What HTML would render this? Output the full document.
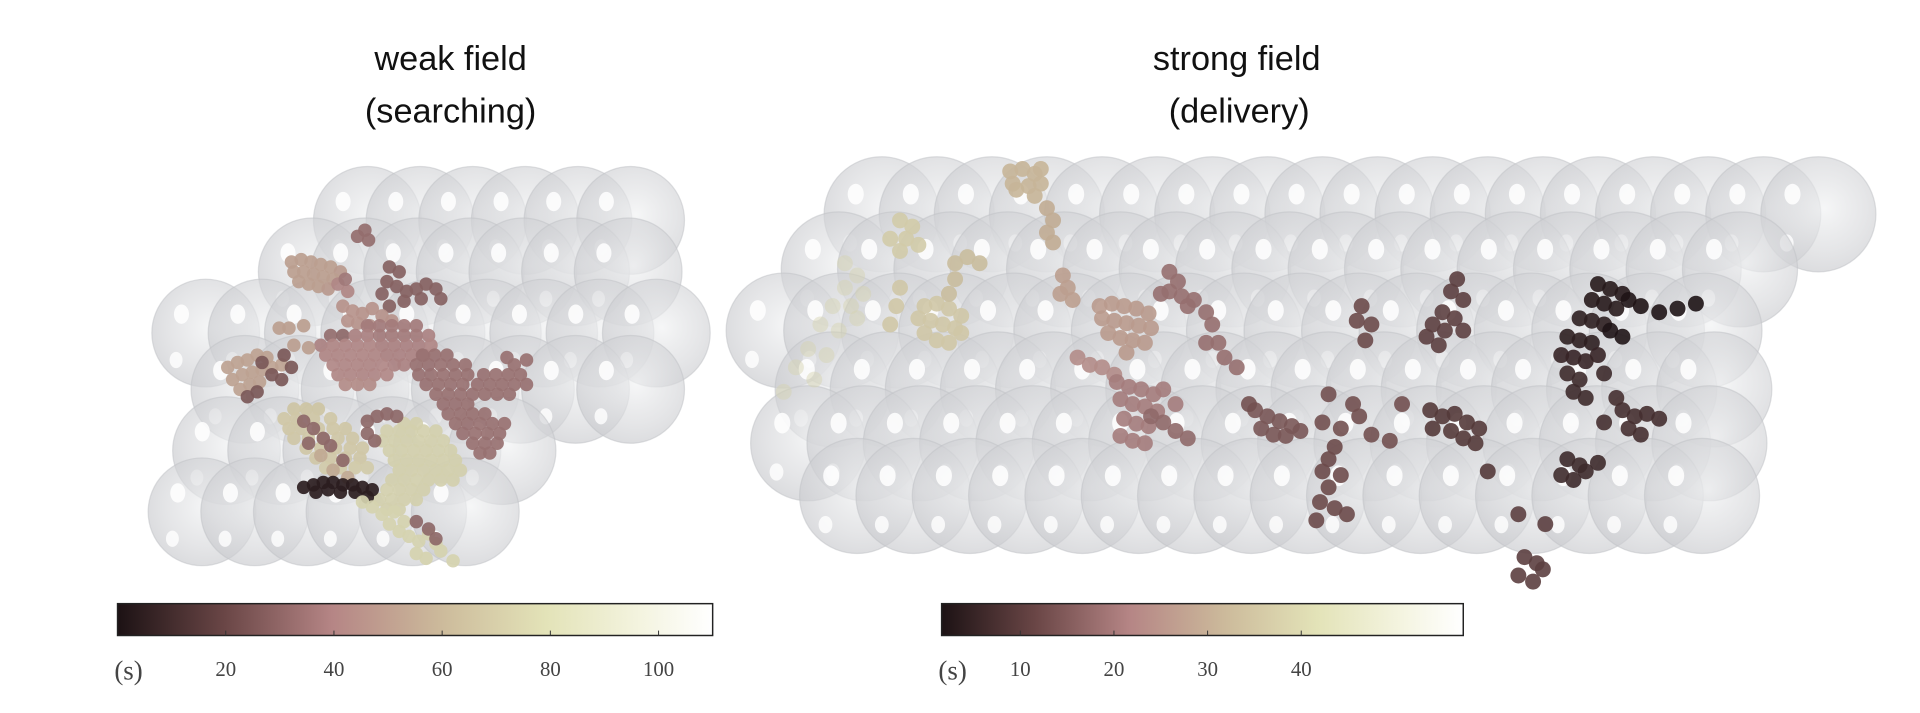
<!DOCTYPE html>
<html><head><meta charset="utf-8">
<style>
html,body{margin:0;padding:0;background:#fff;}
svg{display:block;}
.title{font-family:"Liberation Sans",sans-serif;font-size:28px;fill:#111;}
.tick{font-family:"Liberation Serif",serif;font-size:17px;fill:#444;}
.unit{font-family:"Liberation Serif",serif;font-size:22px;fill:#444;}
</style></head>
<body>
<svg id="fig" width="1920" height="713" viewBox="0 0 1568 582.3" preserveAspectRatio="none" xmlns="http://www.w3.org/2000/svg">
<defs>
<radialGradient id="sph" cx="0.55" cy="0.45" r="0.6">
<stop offset="0" stop-color="#f2f3f4" stop-opacity="0.7"/>
<stop offset="0.6" stop-color="#d6d7da" stop-opacity="0.62"/>
<stop offset="1" stop-color="#c8c9cd" stop-opacity="0.68"/>
</radialGradient>
<linearGradient id="cmap" x1="0" x2="1" y1="0" y2="0">
<stop offset="0" stop-color="#1c1214"/>
<stop offset="0.18" stop-color="#6a4646"/>
<stop offset="0.36" stop-color="#b58585"/>
<stop offset="0.55" stop-color="#cdbc9c"/>
<stop offset="0.72" stop-color="#e3e3b8"/>
<stop offset="0.88" stop-color="#f4f4e0"/>
<stop offset="1" stop-color="#ffffff"/>
</linearGradient>
</defs>
<g id="layer-spheres"></g>
<g id="layer-points"></g>
<text class="title" x="368" y="57" text-anchor="middle">weak field</text>
<text class="title" x="368" y="100" text-anchor="middle">(searching)</text>
<text class="title" x="1010" y="57" text-anchor="middle">strong field</text>
<text class="title" x="1012" y="100" text-anchor="middle">(delivery)</text>
<g id="layer-cbar"></g>
</svg>
<script>
// ---- Data ----
const leftTicks = [20, 40, 60, 80, 100];
const rightTicks = [10, 20, 30, 40];
const leftRange = [0, 110];
const rightRange = [1.6, 57.3];
// left panel points [x, y, time(s)]
const leftPoints = [
[292,193,32],[298,188,32],[301,196,32],
[238,214,50],[246,212,50],[254,214,50],[262,216,50],[270,218,50],[278,222,48],[240,222,50],[248,222,50],[256,224,50],[264,226,50],[272,228,50],[244,230,50],[252,232,50],[260,234,50],[268,236,48],[276,232,40],[284,238,40],[282,228,35],
[318,218,28],[326,222,28],[316,230,28],[324,234,28],[332,238,28],[340,236,28],[348,232,28],[356,236,28],[360,244,28],[344,244,28],[330,246,28],[318,250,28],[312,240,28],
[280,250,45],[288,254,45],[296,256,45],[304,252,45],[312,258,45],[320,262,45],[292,264,45],[302,266,45],[284,262,45],
[300,266,36],[310,266,36],[320,266,36],[330,266,36],[340,266,36],
[270,274,32],[280,274,30],[290,274,38],[300,274,38],[310,274,36],[320,274,36],[330,274,36],[340,274,36],[350,274,38],
[262,282,38],[272,282,40],[282,282,40],[292,282,40],[302,282,40],[312,282,38],[322,282,38],[332,282,38],[342,282,38],[352,282,40],
[266,290,40],[276,290,40],[286,290,40],[296,290,40],[306,290,40],[316,290,38],[326,290,38],[336,290,38],[346,290,38],
[272,298,40],[282,298,40],[292,298,40],[302,298,40],[312,298,40],[322,298,38],[330,298,38],
[276,306,40],[286,306,40],[296,306,40],[306,306,40],[316,306,40],
[282,314,42],[292,314,42],[302,314,42],
[186,300,52],[194,296,52],[202,294,52],[210,290,52],[218,292,52],[190,310,52],[198,306,52],[206,304,52],[214,302,52],[222,300,52],[230,298,52],[196,318,52],[204,314,52],[212,312,52],
[214,296,25],[222,306,25],[230,310,25],[238,300,25],[210,320,25],[202,324,25],[232,290,25],
[228,268,50],[236,268,50],[248,266,50],[240,282,50],[252,284,50],
[345,290,33],[355,290,33],[365,290,33],
[340,298,33],[350,298,33],[360,298,33],[370,298,33],[380,298,33],[414,292,33],[420,298,33],[430,294,33],
[342,306,33],[352,306,33],[362,306,33],[372,306,33],[382,306,33],[395,306,33],[405,306,33],[415,306,33],[425,306,33],
[348,314,33],[358,314,33],[368,314,33],[378,314,33],[390,314,33],[400,314,33],[410,314,33],[420,314,33],[430,314,33],
[356,322,33],[366,322,33],[376,322,33],[386,322,33],[396,322,33],[406,322,33],[416,322,33],
[362,330,33],[372,330,33],[382,330,33],
[366,338,33],[376,338,33],[386,338,33],[396,338,33],
[372,346,33],[382,346,33],[392,346,33],[402,346,33],[412,346,33],
[378,354,33],[388,354,33],[398,354,33],[408,354,33],
[386,362,33],[396,362,33],[406,362,33],[392,370,33],[400,370,33],
[240,334,68],[250,334,68],[260,334,68],
[232,342,70],[242,342,70],[256,342,70],[270,342,70],
[236,350,70],[246,350,70],[260,350,70],[272,350,70],[282,350,70],
[240,358,70],[252,358,70],[264,358,70],[276,358,70],[288,358,70],
[250,366,70],[262,366,70],[274,366,70],[286,366,70],[296,366,70],
[258,374,70],[270,374,70],[282,374,70],[294,374,70],
[266,382,72],[278,382,72],[290,382,72],[300,382,72],
[248,344,30],[256,350,30],[264,358,30],[270,364,30],[252,362,30],[280,376,30],
[262,372,55],[272,384,55],[284,390,55],
[330,346,74],[340,346,74],
[316,352,74],[326,352,74],[336,352,74],[346,352,74],[356,352,74],
[312,360,74],[322,360,74],[332,360,74],[342,360,74],[352,360,74],[362,360,74],
[318,368,74],[328,368,74],[338,368,74],[348,368,74],[358,368,74],[368,368,74],
[322,376,74],[332,376,74],[342,376,74],[352,376,74],[362,376,74],[372,376,74],
[326,384,74],[336,384,74],[346,384,74],[356,384,74],[366,384,74],[376,384,74],
[320,392,74],[330,392,74],[340,392,74],[350,392,74],[360,392,74],[370,392,74],
[316,400,74],[326,400,74],[336,400,74],[346,400,74],
[310,408,74],[320,408,74],[330,408,74],[340,408,74],
[316,416,74],[326,416,74],
[300,344,30],[308,340,30],[316,338,30],[324,340,30],[300,354,30],[306,360,30],
[248,398,4],[256,396,4],[264,394,4],[272,394,4],[280,396,4],[288,396,4],[296,398,4],[304,400,4],[258,402,4],[268,400,4],[278,402,4],[290,402,4],[300,406,4],
[296,410,76],[304,414,76],[312,420,76],[318,428,76],[326,434,76],[334,438,76],[342,442,76],[350,436,76],[356,444,76],[330,426,76],[322,418,76],[340,452,76],[348,456,76],[360,450,76],[370,458,76],
[350,432,30],[356,440,30],[340,426,30]
];
// right panel points [x, y, time(s)]
const rightPoints = [
[640,320,40],[650,300,40],[660,285,40],[670,265,40],[680,250,40],[690,235,40],[700,225,40],[690,215,40],[705,240,40],[700,260,40],[685,270,40],[675,290,40],[665,310,40],[695,250,40],
[735,180,38],[745,185,38],[740,195,38],[750,200,38],[735,205,38],[727,195,38],
[755,250,37],[765,248,37],[775,252,37],[785,258,37],[750,260,37],[760,262,37],[770,265,37],[780,268,37],[755,272,37],[765,278,37],[775,280,37],[785,272,37],
[735,235,37],[732,250,37],[727,265,37],
[825,140,32],[835,138,32],[845,142,32],[850,150,32],[840,152,32],[830,155,32],[845,160,32],[850,138,32],[827,150,32],
[855,170,30],[860,180,30],[855,190,30],[860,198,30],
[780,215,34],[790,210,34],[800,215,34],[780,228,34],[775,240,34],
[868,225,27],[872,235,27],[876,245,27],[866,240,27],
[898,250,26],[908,248,26],[918,250,26],[928,252,26],[938,256,26],[900,260,26],[910,262,26],[920,264,26],[930,266,26],[940,268,26],[905,272,26],[915,276,26],[925,278,26],[935,280,26],[920,288,26],
[955,222,18],[962,230,18],[955,238,18],[965,242,18],[975,245,18],[985,255,18],[990,265,18],[995,280,18],[1000,292,18],[1010,300,18],[985,280,18],[970,250,18],[948,240,18],
[880,292,23],[890,298,23],[900,300,23],[910,306,23],
[912,312,20],[922,316,20],[932,318,20],[942,322,20],[915,326,20],[925,330,20],[935,332,20],[945,336,20],[918,342,20],[928,346,20],[938,348,20],[915,356,20],[925,360,20],[935,362,20],[950,318,20],[960,330,20],
[940,340,17],[950,345,17],[960,352,17],[970,358,17],
[1025,335,14],[1035,340,14],[1045,344,14],[1055,348,14],[1030,350,14],[1040,355,14],[1050,356,14],[1062,352,14],
[1020,330,13],[1085,322,13],[1080,345,13],[1095,350,13],[1110,340,13],[1120,355,13],[1105,330,13],[1145,330,13],[1135,360,13],
[1090,365,12],[1085,375,12],[1080,385,12],[1095,388,12],[1085,398,12],[1078,410,12],[1090,415,12],[1100,420,12],[1075,425,12],
[1112,250,12],[1108,262,12],[1120,265,12],[1115,278,12],
[1190,228,10],[1185,238,10],[1195,245,10],[1178,255,10],[1188,260,10],[1170,265,10],[1180,270,10],[1165,275,10],[1175,282,10],[1195,270,10],
[1168,335,9],[1178,340,9],[1188,338,9],[1198,345,9],[1208,350,9],[1185,352,9],[1195,358,9],[1205,362,9],[1170,350,9],[1215,385,9],
[1305,232,3],[1315,236,3],[1325,240,3],[1300,245,3],[1310,248,3],[1320,252,3],[1290,260,4],[1300,262,4],[1310,265,4],[1280,275,4],[1290,278,4],[1300,280,4],[1275,290,5],[1285,292,5],[1295,295,5],[1305,290,5],[1280,305,6],[1290,310,6],[1285,320,6],[1295,325,6],[1310,305,6],[1330,245,2],[1340,250,2],[1355,255,1.8],[1370,252,1.7],[1385,248,1.7],[1315,270,2],[1325,275,2],
[1325,335,7],[1335,340,7],[1345,338,7],[1355,342,7],[1330,350,7],[1340,355,7],[1320,325,7],[1310,345,7],
[1280,375,6],[1290,380,6],[1275,388,6],[1285,392,6],[1295,385,6],[1305,378,6],
[1240,420,10],[1262,428,10],[1245,455,10],[1255,460,10],[1240,470,10],[1252,475,10],[1260,465,10]
];

// ---- Colormap (points use a slightly muted version) ----
const stops=[[0,[28,18,20]],[0.18,[104,72,72]],[0.36,[176,134,134]],[0.55,[198,182,152]],[0.72,[216,216,180]],[0.88,[236,236,214]],[1,[250,250,245]]];
function cmap(f){f=Math.max(0,Math.min(1,f));for(let i=1;i<stops.length;i++){if(f<=stops[i][0]){const a=stops[i-1],b=stops[i];const u=(f-a[0])/(b[0]-a[0]);const c=a[1].map((v,k)=>Math.round(v+(b[1][k]-v)*u));return `rgb(${c[0]},${c[1]},${c[2]})`;}}return 'rgb(250,250,245)';}
const NS="http://www.w3.org/2000/svg";
function mk(tag,attrs,parent){const e=document.createElementNS(NS,tag);for(const k in attrs)e.setAttribute(k,attrs[k]);parent.appendChild(e);return e;}

// ---- Spheres (decorative lattice) ----
const gS=document.getElementById('layer-spheres');
function sphereRows(rows,r){rows.forEach(([y,x0,x1,step])=>{for(let x=x0;x<=x1+0.1;x+=step){const g=mk('g',{},gS);


mk('circle',{cx:x,cy:y,r:r,fill:'url(#sph)',stroke:'#c0c1c5','stroke-opacity':0.5,'stroke-width':1},g);
mk('ellipse',{cx:x-r*0.45,cy:y-r*0.35,rx:r*0.14,ry:r*0.18,fill:'#fff','fill-opacity':0.85},g);
mk('ellipse',{cx:x-r*0.55,cy:y+r*0.5,rx:r*0.12,ry:r*0.15,fill:'#fff','fill-opacity':0.8},g);}});}
sphereRows([[180,300,515,43],[222,255,515,43],[272,168,540,46],[318,200,520,45],[368,185,435,45],[418,165,420,43]],44);
sphereRows([[175,720,1515,45],[220,685,1445,46],[270,640,1420,47],[318,680,1400,45],[362,660,1410,46],[405,700,1430,46]],47);

// ---- Points ----
const gP=document.getElementById('layer-points');
const xL=t=>96+(t-leftRange[0])/(leftRange[1]-leftRange[0])*486;
const xR=t=>769+(t-rightRange[0])/(rightRange[1]-rightRange[0])*426;
leftPoints.forEach(p=>{const c=mk('circle',{cx:p[0],cy:p[1],r:5.5,fill:cmap((xL(p[2])-96)/486),'fill-opacity':0.92},gP);

});
rightPoints.forEach(p=>{const c=mk('circle',{cx:p[0],cy:p[1],r:6.5,fill:cmap((xR(p[2])-769)/426),'fill-opacity':p[0]<710?0.45:0.9},gP);

});

// ---- Colorbars ----
const gC=document.getElementById('layer-cbar');
function colorbar(x,w,ticks,xf,name){const g=mk('g',{},gC);


mk('rect',{x:x,y:493,width:w,height:26,fill:'url(#cmap)',stroke:'#222','stroke-width':1.2},g);
ticks.forEach(t=>{const tx=xf(t);mk('line',{x1:tx,x2:tx,y1:519,y2:515,stroke:'#333','stroke-width':0.8},g);
const l=mk('text',{x:tx,y:552,'text-anchor':'middle',class:'tick'},g);l.textContent=t;

});
const u=mk('text',{x:x+9,y:555,'text-anchor':'middle',class:'unit'},g);u.textContent='(s)';

}
colorbar(96,486,leftTicks,xL,'weak-field-colorbar');
colorbar(769,426,rightTicks,xR,'strong-field-colorbar');
</script>
</body></html>
